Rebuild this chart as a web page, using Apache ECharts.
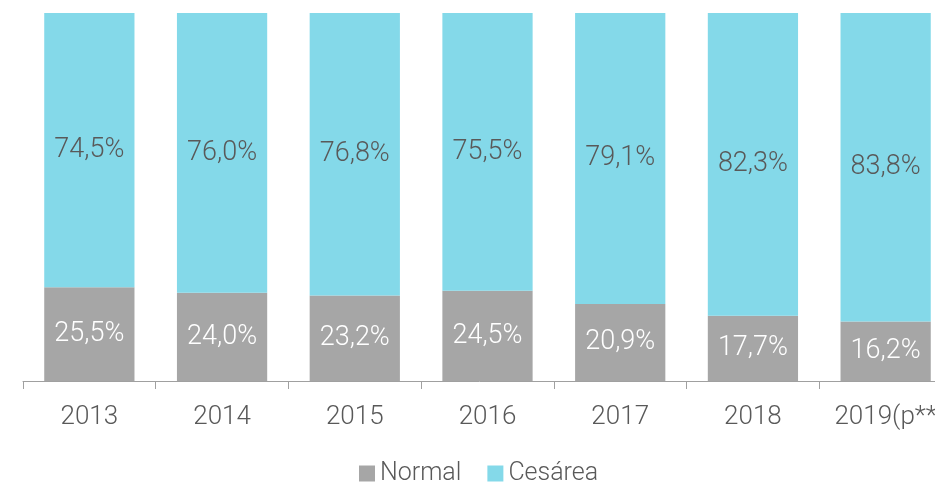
<!DOCTYPE html>
<html>
<head>
<meta charset="utf-8">
<script src="https://cdn.jsdelivr.net/npm/echarts@6/dist/echarts.min.js"></script>
<style>
  html, body { margin: 0; padding: 0; background: #fff; }
  #chart { width: 935px; height: 482px; }
</style>
</head>
<body>
<div id="chart"></div>
<script>
var years = ['2013', '2014', '2015', '2016', '2017', '2018', '2019(p**'];
var normal = [25.5, 24.0, 23.2, 24.5, 20.9, 17.7, 16.2];
var cesarea = [74.5, 76.0, 76.8, 75.5, 79.1, 82.3, 83.8];

function fmt(p) {
  return p.value.toFixed(1).replace('.', ',') + '%';
}

var chart = echarts.init(document.getElementById('chart'));
var font = 'Roboto, "Noto Sans", sans-serif';

option = {
  animation: false,
  grid: {
    left: 23,
    right: -17,
    top: 13,
    bottom: 101,
    containLabel: false,
    outerBoundsMode: 'none'
  },
  legend: {
    bottom: -9,
    left: 354,
    itemWidth: 16,
    itemHeight: 16,
    itemGap: 26,
    icon: 'rect',
    textStyle: { color: '#595959', fontSize: 25, fontWeight: 300, fontFamily: font },
    data: ['Normal', 'Cesárea']
  },
  xAxis: {
    type: 'category',
    data: years,
    axisLine: { lineStyle: { color: '#a0a0a0', width: 1 } },
    axisTick: { show: true, length: 8, lineStyle: { color: '#a0a0a0' } },
    axisLabel: { interval: 0, color: '#595959', fontSize: 26, fontWeight: 300, fontFamily: font, margin: 23 }
  },
  yAxis: {
    type: 'value',
    min: 0,
    max: 100,
    show: false
  },
  series: [{
    name: 'Normal',
    type: 'bar',
    stack: 'total',
    barWidth: '68%',
    data: normal,
    itemStyle: { color: '#a6a6a6' },
    label: {
      show: true,
      position: 'inside',
      formatter: fmt,
      color: '#ffffff',
      fontSize: 27,
      fontWeight: 300,
      fontFamily: font
    }
  }, {
    name: 'Cesárea',
    type: 'bar',
    stack: 'total',
    data: cesarea,
    itemStyle: { color: '#84d9e9' },
    label: {
      show: true,
      position: 'inside',
      formatter: fmt,
      color: '#595959',
      fontSize: 27,
      fontWeight: 300,
      fontFamily: font
    }
  }]
};
chart.setOption(option);
</script>
</body>
</html>
